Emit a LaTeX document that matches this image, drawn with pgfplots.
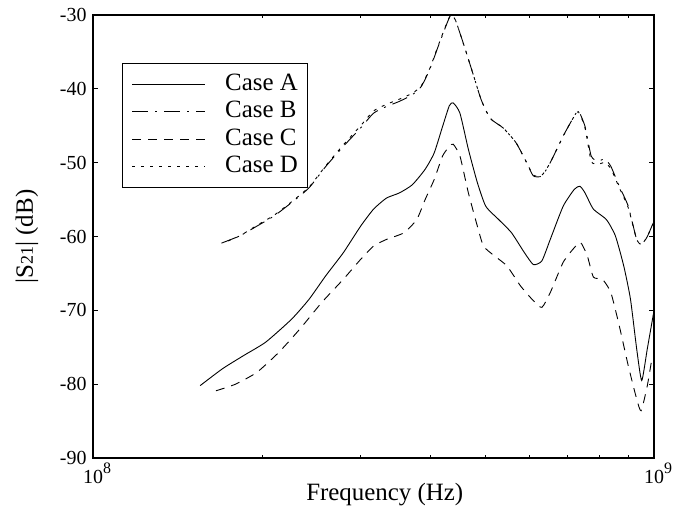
\documentclass[border=0pt]{standalone}
\usepackage{pgfplots}
\pgfplotsset{compat=1.18}
\usepackage{fontspec}
\setmainfont{Liberation Serif}
\begin{document}
\begin{tikzpicture}
\begin{axis}[
  scale only axis,
  width=561bp, height=443bp,
  xmode=log,
  xmin=1e8, xmax=1e9,
  ymin=-90, ymax=-30,
  xtick={1e8,1e9},
  xticklabels={10\raisebox{1.1ex}{\fontsize{16}{16}\selectfont 8}, 10\raisebox{1.1ex}{\fontsize{16}{16}\selectfont 9}},
  minor xtick={2e8,3e8,4e8,5e8,6e8,7e8,8e8,9e8},
  ytick={-90,-80,-70,-60,-50,-40,-30},
  yticklabels={-90,-80,-70,-60,-50,-40,-30},
  tick align=inside,
  major tick length=5bp,
  minor tick length=3bp,
  tick style={line width=0.8bp, black},
  axis line style={line width=1.2bp},
  tick label style={font=\fontsize{20}{20}\selectfont},
  xticklabel style={yshift=-1bp, xshift=4bp},
  yticklabel style={xshift=-3bp},
  xlabel={Frequency (Hz)},
  ylabel={|S{\fontsize{18}{18}\selectfont 21}| (dB)},
  label style={font=\fontsize{25}{25}\selectfont},
  xlabel style={at={(axis description cs:0.52,-0.083)}, anchor=center},
  ylabel style={at={(axis description cs:-0.118,0.5)}, anchor=center},
  no markers,
  legend cell align=left,
  legend style={at={(axis description cs:0.052,0.891)}, anchor=north west,
    font=\fontsize{25}{27}\selectfont, draw=black, line width=1bp,
    inner xsep=9bp, inner ysep=8bp, row sep=2.5bp,
    nodes={inner sep=0.5bp, text height=18bp, text depth=6bp},
    /tikz/every odd column/.append style={column sep=19bp}},
  legend image code/.code={\draw[#1, line width=1bp] (0bp,0bp) -- (73bp,0bp);},
  every axis plot/.append style={line width=0.9bp, black, smooth, tension=0.35},
]
\addplot[black, solid] coordinates {
(1.552e8,-80.2) (1.702e8,-77.9) (1.858e8,-76.1) (2.032e8,-74.3) (2.259e8,-71.2)
(2.427e8,-68.5) (2.600e8,-65.3) (2.793e8,-62.2) (2.999e8,-58.6) (3.162e8,-56.3)
(3.334e8,-54.8) (3.516e8,-54.1) (3.707e8,-53.0) (3.908e8,-50.9) (4.055e8,-48.7)
(4.198e8,-45.1) (4.315e8,-42.3) (4.385e8,-41.9) (4.508e8,-43.3) (4.667e8,-48.2)
(4.842e8,-52.7) (5.012e8,-55.9) (5.284e8,-57.7) (5.572e8,-59.5) (5.875e8,-62.2)
(6.095e8,-63.8) (6.310e8,-63.3) (6.531e8,-60.4) (6.887e8,-55.9) (7.211e8,-53.6)
(7.379e8,-53.2) (7.534e8,-54.1) (7.798e8,-56.3) (8.222e8,-57.7) (8.531e8,-59.9)
(8.831e8,-64.0) (9.078e8,-68.5) (9.311e8,-75.2) (9.506e8,-79.5) (9.727e8,-75.2)
(10e8,-70.0)
};
\addlegendentry{Case A}
\addplot[black, dash pattern=on 16bp off 7bp on 2bp off 7bp] coordinates {
(1.694e8,-60.9) (1.828e8,-59.9) (1.959e8,-58.6) (2.104e8,-57.2) (2.259e8,-55.4)
(2.427e8,-53.4) (2.600e8,-50.5) (2.793e8,-47.8) (2.999e8,-45.3) (3.162e8,-43.3)
(3.334e8,-42.4) (3.516e8,-41.7) (3.707e8,-40.8) (3.846e8,-39.7) (3.981e8,-37.4)
(4.121e8,-34.3) (4.276e8,-31.1) (4.345e8,-30.0) (4.426e8,-30.7) (4.592e8,-34.3)
(4.753e8,-37.9) (4.920e8,-41.5) (5.105e8,-44.0) (5.383e8,-45.3) (5.675e8,-47.3)
(5.929e8,-50.0) (6.095e8,-51.8) (6.310e8,-51.8) (6.531e8,-50.0) (6.887e8,-46.4)
(7.145e8,-44.2) (7.328e8,-43.0) (7.534e8,-45.1) (7.727e8,-49.1) (7.943e8,-49.8)
(8.166e8,-49.5) (8.375e8,-50.5) (8.670e8,-53.2) (8.995e8,-55.9) (9.311e8,-60.4)
(9.506e8,-61.1) (9.727e8,-60.0) (10e8,-57.9)
};
\addlegendentry{Case B}
\addplot[black, dash pattern=on 9bp off 7bp] coordinates {
(1.656e8,-80.9) (1.795e8,-80.0) (1.959e8,-78.4) (2.143e8,-75.7) (2.339e8,-72.5)
(2.559e8,-68.9) (2.793e8,-65.8) (2.999e8,-63.1) (3.162e8,-61.3) (3.334e8,-60.4)
(3.581e8,-59.5) (3.776e8,-57.7) (3.908e8,-55.0) (4.055e8,-52.3) (4.198e8,-49.1)
(4.315e8,-47.8) (4.385e8,-47.5) (4.508e8,-49.1) (4.667e8,-54.1) (4.842e8,-58.6)
(4.966e8,-61.3) (5.188e8,-62.6) (5.470e8,-64.0) (5.781e8,-66.7) (6.095e8,-68.7)
(6.310e8,-69.6) (6.531e8,-67.6) (6.887e8,-63.5) (7.211e8,-61.5) (7.396e8,-60.8)
(7.603e8,-62.6) (7.798e8,-65.5) (8.091e8,-65.8) (8.375e8,-67.6) (8.670e8,-72.1)
(8.995e8,-77.5) (9.311e8,-82.0) (9.484e8,-83.6) (9.727e8,-80.2) (9.908e8,-76.6)
};
\addlegendentry{Case C}
\addplot[black, dash pattern=on 3bp off 6bp] coordinates {
(1.740e8,-60.6) (1.828e8,-59.9) (1.959e8,-58.5) (2.104e8,-57.1) (2.259e8,-55.3)
(2.427e8,-53.3) (2.600e8,-50.4) (2.793e8,-47.6) (2.999e8,-45.0) (3.162e8,-43.0)
(3.334e8,-42.1) (3.516e8,-41.4) (3.707e8,-40.6) (3.846e8,-39.6) (3.981e8,-37.3)
(4.121e8,-34.2) (4.276e8,-31.0) (4.345e8,-30.0) (4.426e8,-30.7) (4.592e8,-34.3)
(4.753e8,-37.9) (4.920e8,-41.5) (5.105e8,-44.0) (5.383e8,-45.3) (5.675e8,-47.3)
(5.929e8,-50.0) (6.095e8,-51.7) (6.310e8,-51.7) (6.531e8,-50.0) (6.887e8,-46.4)
(7.145e8,-44.2) (7.328e8,-43.1) (7.534e8,-45.3) (7.727e8,-49.8) (7.943e8,-50.2)
(8.166e8,-50.0) (8.375e8,-50.8) (8.670e8,-53.4) (8.995e8,-56.1) (9.311e8,-60.4)
(9.506e8,-61.0) (9.727e8,-60.0) (10e8,-57.9)
};
\addlegendentry{Case D}
\end{axis}
\pgfresetboundingbox
\path ([xshift=-93bp,yshift=-50bp]current axis.south west) rectangle ([xshift=20bp,yshift=15bp]current axis.north east);
\end{tikzpicture}
\end{document}
